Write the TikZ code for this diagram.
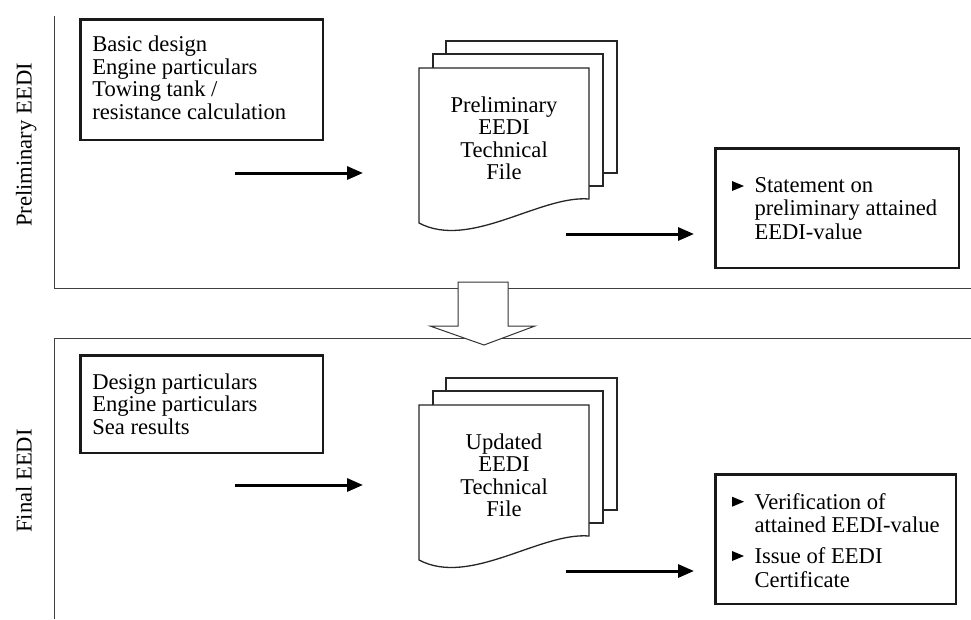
\documentclass[tikz,border=0pt]{standalone}
\usepackage{fontspec}
\setmainfont{Liberation Serif}
\usetikzlibrary{arrows.meta}
\begin{document}
\begin{tikzpicture}[x=1pt,y=-1pt,
  every node/.style={inner sep=0pt, outer sep=0pt},
  txt/.style={font=\fontsize{22.6}{22.5}\selectfont, align=left, anchor=north west},
  rtxt/.style={font=\fontsize{22.6}{22}\selectfont, align=left, anchor=north west},
  ctxt/.style={font=\fontsize{22.6}{22.5}\selectfont, align=center, anchor=north},
  sidelabel/.style={font=\fontsize{22.6}{22.5}\selectfont, rotate=90, anchor=base},
  inbox/.style={draw=black!90, line width=2.5pt, anchor=north west},
  panel/.style={draw=black!75, line width=1pt},
  flow/.style={line width=3pt, -{Triangle[length=16pt,width=13pt]}},
  page/.style={draw=black!85, line width=1.3pt, fill=white},
  bigarrow/.style={draw=black!80, line width=1pt, fill=white},
  bul/.style={fill=black},
]
\useasboundingbox (0,0) rectangle (971,619);

% panel frames
\draw[panel] (54,16) -- (54,288) -- (971,288);
\draw[panel] (971,338) -- (54,338) -- (54,619);

% side labels
\node[sidelabel] (lab1) at (31.7,145) {Preliminary EEDI};
\node[sidelabel] (lab2) at (31.7,481) {Final EEDI};

% ---------- top panel ----------
\node[inbox, minimum width=242.5pt, minimum height=120.5pt] (in1) at (80.25,19.25) {};
\node[txt] (in1t) at (92.3,35.95) {\strut Basic design\\\strut Engine particulars\\\strut Towing tank /\\\strut resistance calculation};

\draw[page] (446,41) rectangle (617,173);
\draw[page] (433,54) rectangle (603,186);
\draw[page] (419,68) -- (589,68) -- (589,199) .. controls (540,195) and (470,250) .. (419,223) -- cycle;
\node[ctxt] (doc1) at (504,96.55) {\strut Preliminary\\\strut EEDI\\\strut Technical\\\strut File};

\coordinate (a1s) at (235,173);
\coordinate (a1e) at (363,173);
\draw[flow] (a1s) -- (a1e);
\coordinate (a2s) at (566,234);
\coordinate (a2e) at (694,234);
\draw[flow] (a2s) -- (a2e);

\node[inbox, minimum width=243.5pt, minimum height=119.5pt] (out1) at (715.25,148.25) {};
\node[rtxt] (out1t) at (754.5,177.3) {\strut Statement on\\\strut preliminary attained\\\strut EEDI-value};
\fill[bul] (732,181) -- (744,186) -- (732,191) -- cycle;

% ---------- big transition arrow ----------
\draw[bigarrow] (458,282) -- (508,282) -- (508,326) -- (535,326) -- (484,345) -- (430,326) -- (458,326) -- cycle;

% ---------- bottom panel ----------
\node[inbox, minimum width=242.5pt, minimum height=97.5pt] (in2) at (80.25,355.25) {};
\node[txt] (in2t) at (92.3,373.25) {\strut Design particulars\\\strut Engine particulars\\\strut Sea results};

\draw[page] (446,378) rectangle (617,510);
\draw[page] (433,391) rectangle (603,523);
\draw[page] (419,405) -- (589,405) -- (589,536) .. controls (540,532) and (470,587) .. (419,560) -- cycle;
\node[ctxt] (doc2) at (504,433.55) {\strut Updated\\\strut EEDI\\\strut Technical\\\strut File};

\coordinate (a3s) at (235,485);
\coordinate (a3e) at (363,485);
\draw[flow] (a3s) -- (a3e);
\coordinate (a4s) at (566,571);
\coordinate (a4e) at (694,571);
\draw[flow] (a4s) -- (a4e);

\node[inbox, minimum width=240.5pt, minimum height=129.5pt] (out2) at (715.25,474.25) {};
\node[rtxt] (out2a) at (754.5,493.6) {\strut Verification of\\\strut attained EEDI-value};
\node[rtxt] (out2b) at (754.5,547.9) {\strut Issue of EEDI\\\strut Certificate};
\fill[bul] (732,496.7) -- (744,501.7) -- (732,506.7) -- cycle;
\fill[bul] (732,551) -- (744,556) -- (732,561) -- cycle;
\end{tikzpicture}
\end{document}
